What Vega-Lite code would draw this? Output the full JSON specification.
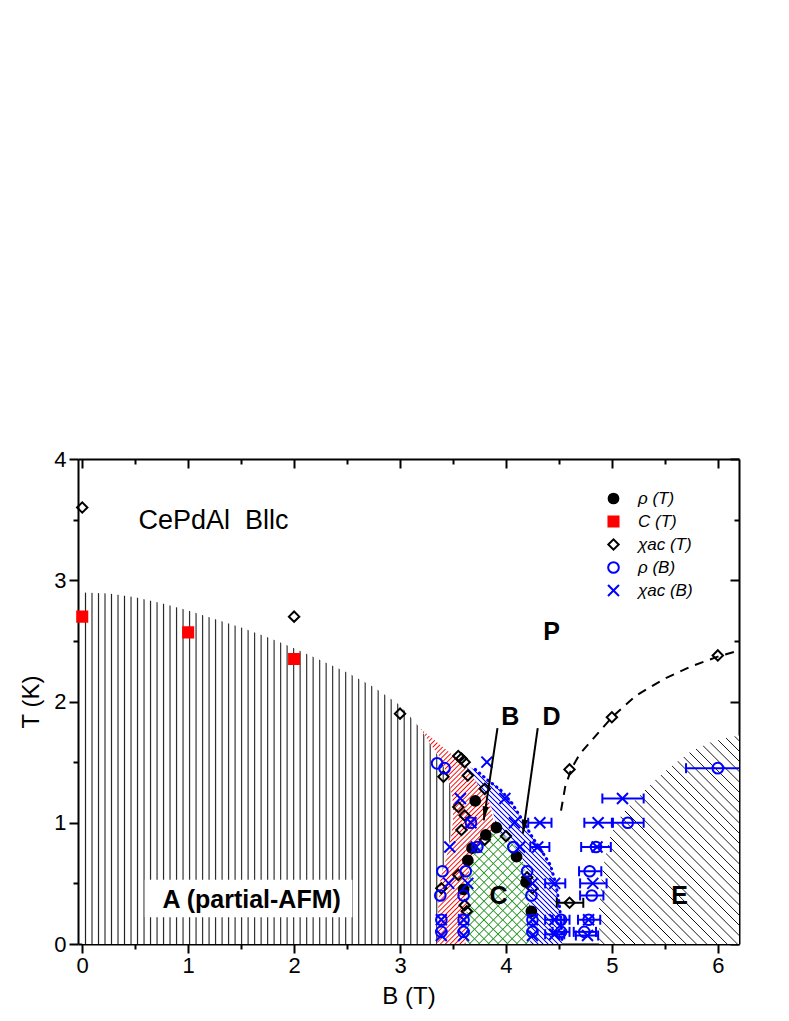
{
"$schema":"https://vega.github.io/schema/vega-lite/v6.json",
"width":661,"height":485,
"autosize":{"type":"none"},
"padding":{"left":78,"top":459,"right":50,"bottom":77},
"background":"white",
"config":{
 "view":{"stroke":null},
 "font":"Liberation Sans",
 "axis":{"grid":false,"zindex":1,"domainColor":"black","tickColor":"black","labelColor":"black","titleColor":"black","domainWidth":2,"tickWidth":2,"labelFont":"Liberation Sans","titleFont":"Liberation Sans","titleFontWeight":"normal"},
 "legend":{"orient":"none","legendX":527,"legendY":31,"labelFontSize":17,"labelFont":"Liberation Sans","labelFontStyle":"italic","labelColor":"black","rowPadding":4,"labelOffset":16,"symbolStrokeWidth":2,"padding":0}
},
"datasets":{
 "eb":[{"B":4.69,"B2":4.90,"T":0.60},{"B":4.70,"B2":4.92,"T":0.40},{"B":4.68,"B2":4.89,"T":0.20},{"B":4.64,"B2":4.85,"T":0.10},{"B":4.71,"B2":4.99,"T":0.80},{"B":5.01,"B2":5.30,"T":1.00},{"B":5.70,"B2":6.30,"T":1.45},{"B":4.44,"B2":4.60,"T":0.20},{"B":4.44,"B2":4.60,"T":0.10},{"B":4.21,"B2":4.43,"T":1.00},{"B":4.23,"B2":4.41,"T":0.80},{"B":4.37,"B2":4.56,"T":0.50},{"B":4.70,"B2":4.95,"T":0.50},{"B":4.74,"B2":5.00,"T":1.00},{"B":4.91,"B2":5.30,"T":1.20},{"B":4.37,"B2":4.55,"T":0.20},{"B":4.37,"B2":4.55,"T":0.08},{"B":4.66,"B2":4.87,"T":0.07}],
 "ebk":[{"B":4.48,"B2":4.73,"T":0.34}],
 "arrows":[{"B":3.79,"T":1.02,"B2":3.92,"T2":1.78},{"B":4.16,"T":0.91,"B2":4.30,"T2":1.78}]
},
"encoding":{
 "x":{"field":"B","type":"quantitative","scale":{"domain":[-0.04,6.2],"nice":false,"zero":false},"axis":{"orient":"bottom","values":[0,1,2,3,4,5,6],"title":"B (T)","tickSize":9,"labelFontSize":22,"labelPadding":2,"titleFontSize":24,"titlePadding":8}},
 "y":{"field":"T","type":"quantitative","scale":{"domain":[0,4],"nice":false,"zero":false},"axis":{"orient":"left","values":[0,1,2,3,4],"title":"T (K)","tickSize":9,"labelFontSize":22,"labelPadding":3,"titleFontSize":24,"titlePadding":10}}
},
"layer":[
{"layer":[
 {"data":{"values":[{"T":0,"B":3.35},{"T":0.30,"B":3.36},{"T":0.53,"B":3.38},{"T":0.70,"B":3.43},{"T":0.88,"B":3.48},{"T":1.02,"B":3.50},{"T":1.19,"B":3.50},{"T":1.33,"B":3.47},{"T":1.49,"B":3.40},{"T":1.62,"B":3.31},{"T":1.78,"B":3.19},{"T":1.87,"B":3.10},{"T":1.97,"B":3.00},{"T":2.12,"B":2.75},{"T":2.24,"B":2.50},{"T":2.34,"B":2.25},{"T":2.44,"B":2.00},{"T":2.53,"B":1.75},{"T":2.61,"B":1.50},{"T":2.68,"B":1.25},{"T":2.75,"B":1.00},{"T":2.81,"B":0.75},{"T":2.86,"B":0.50},{"T":2.89,"B":0.25},{"T":2.90,"B":0}]},
  "mark":{"type":"area","orient":"horizontal","opacity":1,"fillOpacity":1,"fill":{"gradient":"linear","x1":0,"y1":0,"x2":1,"y2":0,"stops":[
{"offset":0.0058,"color":"#fff"},{"offset":0.0088,"color":"#222"},{"offset":0.0118,"color":"#fff"},
{"offset":0.0233,"color":"#fff"},{"offset":0.0263,"color":"#222"},{"offset":0.0293,"color":"#fff"},
{"offset":0.0409,"color":"#fff"},{"offset":0.0439,"color":"#222"},{"offset":0.0469,"color":"#fff"},
{"offset":0.0584,"color":"#fff"},{"offset":0.0614,"color":"#222"},{"offset":0.0644,"color":"#fff"},
{"offset":0.0759,"color":"#fff"},{"offset":0.0789,"color":"#222"},{"offset":0.0819,"color":"#fff"},
{"offset":0.0935,"color":"#fff"},{"offset":0.0965,"color":"#222"},{"offset":0.0995,"color":"#fff"},
{"offset":0.1110,"color":"#fff"},{"offset":0.1140,"color":"#222"},{"offset":0.1170,"color":"#fff"},
{"offset":0.1286,"color":"#fff"},{"offset":0.1316,"color":"#222"},{"offset":0.1346,"color":"#fff"},
{"offset":0.1461,"color":"#fff"},{"offset":0.1491,"color":"#222"},{"offset":0.1521,"color":"#fff"},
{"offset":0.1637,"color":"#fff"},{"offset":0.1667,"color":"#222"},{"offset":0.1697,"color":"#fff"},
{"offset":0.1812,"color":"#fff"},{"offset":0.1842,"color":"#222"},{"offset":0.1872,"color":"#fff"},
{"offset":0.1988,"color":"#fff"},{"offset":0.2018,"color":"#222"},{"offset":0.2048,"color":"#fff"},
{"offset":0.2163,"color":"#fff"},{"offset":0.2193,"color":"#222"},{"offset":0.2223,"color":"#fff"},
{"offset":0.2338,"color":"#fff"},{"offset":0.2368,"color":"#222"},{"offset":0.2398,"color":"#fff"},
{"offset":0.2514,"color":"#fff"},{"offset":0.2544,"color":"#222"},{"offset":0.2574,"color":"#fff"},
{"offset":0.2689,"color":"#fff"},{"offset":0.2719,"color":"#222"},{"offset":0.2749,"color":"#fff"},
{"offset":0.2865,"color":"#fff"},{"offset":0.2895,"color":"#222"},{"offset":0.2925,"color":"#fff"},
{"offset":0.3040,"color":"#fff"},{"offset":0.3070,"color":"#222"},{"offset":0.3100,"color":"#fff"},
{"offset":0.3216,"color":"#fff"},{"offset":0.3246,"color":"#222"},{"offset":0.3276,"color":"#fff"},
{"offset":0.3391,"color":"#fff"},{"offset":0.3421,"color":"#222"},{"offset":0.3451,"color":"#fff"},
{"offset":0.3566,"color":"#fff"},{"offset":0.3596,"color":"#222"},{"offset":0.3626,"color":"#fff"},
{"offset":0.3742,"color":"#fff"},{"offset":0.3772,"color":"#222"},{"offset":0.3802,"color":"#fff"},
{"offset":0.3917,"color":"#fff"},{"offset":0.3947,"color":"#222"},{"offset":0.3977,"color":"#fff"},
{"offset":0.4093,"color":"#fff"},{"offset":0.4123,"color":"#222"},{"offset":0.4153,"color":"#fff"},
{"offset":0.4268,"color":"#fff"},{"offset":0.4298,"color":"#222"},{"offset":0.4328,"color":"#fff"},
{"offset":0.4444,"color":"#fff"},{"offset":0.4474,"color":"#222"},{"offset":0.4504,"color":"#fff"},
{"offset":0.4619,"color":"#fff"},{"offset":0.4649,"color":"#222"},{"offset":0.4679,"color":"#fff"},
{"offset":0.4795,"color":"#fff"},{"offset":0.4825,"color":"#222"},{"offset":0.4855,"color":"#fff"},
{"offset":0.4970,"color":"#fff"},{"offset":0.5000,"color":"#222"},{"offset":0.5030,"color":"#fff"},
{"offset":0.5145,"color":"#fff"},{"offset":0.5175,"color":"#222"},{"offset":0.5205,"color":"#fff"},
{"offset":0.5321,"color":"#fff"},{"offset":0.5351,"color":"#222"},{"offset":0.5381,"color":"#fff"},
{"offset":0.5496,"color":"#fff"},{"offset":0.5526,"color":"#222"},{"offset":0.5556,"color":"#fff"},
{"offset":0.5672,"color":"#fff"},{"offset":0.5702,"color":"#222"},{"offset":0.5732,"color":"#fff"},
{"offset":0.5847,"color":"#fff"},{"offset":0.5877,"color":"#222"},{"offset":0.5907,"color":"#fff"},
{"offset":0.6023,"color":"#fff"},{"offset":0.6053,"color":"#222"},{"offset":0.6083,"color":"#fff"},
{"offset":0.6198,"color":"#fff"},{"offset":0.6228,"color":"#222"},{"offset":0.6258,"color":"#fff"},
{"offset":0.6374,"color":"#fff"},{"offset":0.6404,"color":"#222"},{"offset":0.6434,"color":"#fff"},
{"offset":0.6549,"color":"#fff"},{"offset":0.6579,"color":"#222"},{"offset":0.6609,"color":"#fff"},
{"offset":0.6724,"color":"#fff"},{"offset":0.6754,"color":"#222"},{"offset":0.6784,"color":"#fff"},
{"offset":0.6900,"color":"#fff"},{"offset":0.6930,"color":"#222"},{"offset":0.6960,"color":"#fff"},
{"offset":0.7075,"color":"#fff"},{"offset":0.7105,"color":"#222"},{"offset":0.7135,"color":"#fff"},
{"offset":0.7251,"color":"#fff"},{"offset":0.7281,"color":"#222"},{"offset":0.7311,"color":"#fff"},
{"offset":0.7426,"color":"#fff"},{"offset":0.7456,"color":"#222"},{"offset":0.7486,"color":"#fff"},
{"offset":0.7602,"color":"#fff"},{"offset":0.7632,"color":"#222"},{"offset":0.7662,"color":"#fff"},
{"offset":0.7777,"color":"#fff"},{"offset":0.7807,"color":"#222"},{"offset":0.7837,"color":"#fff"},
{"offset":0.7952,"color":"#fff"},{"offset":0.7982,"color":"#222"},{"offset":0.8012,"color":"#fff"},
{"offset":0.8128,"color":"#fff"},{"offset":0.8158,"color":"#222"},{"offset":0.8188,"color":"#fff"},
{"offset":0.8303,"color":"#fff"},{"offset":0.8333,"color":"#222"},{"offset":0.8363,"color":"#fff"},
{"offset":0.8479,"color":"#fff"},{"offset":0.8509,"color":"#222"},{"offset":0.8539,"color":"#fff"},
{"offset":0.8654,"color":"#fff"},{"offset":0.8684,"color":"#222"},{"offset":0.8714,"color":"#fff"},
{"offset":0.8830,"color":"#fff"},{"offset":0.8860,"color":"#222"},{"offset":0.8890,"color":"#fff"},
{"offset":0.9005,"color":"#fff"},{"offset":0.9035,"color":"#222"},{"offset":0.9065,"color":"#fff"},
{"offset":0.9181,"color":"#fff"},{"offset":0.9211,"color":"#222"},{"offset":0.9241,"color":"#fff"},
{"offset":0.9356,"color":"#fff"},{"offset":0.9386,"color":"#222"},{"offset":0.9416,"color":"#fff"},
{"offset":0.9531,"color":"#fff"},{"offset":0.9561,"color":"#222"},{"offset":0.9591,"color":"#fff"},
{"offset":0.9707,"color":"#fff"},{"offset":0.9737,"color":"#222"},{"offset":0.9767,"color":"#fff"},
{"offset":0.9882,"color":"#fff"},{"offset":0.9912,"color":"#222"},{"offset":0.9942,"color":"#fff"}]}},
  "encoding":{"x2":{"datum":0}}},
 {"data":{"values":[{"T":0,"B":3.35,"B2":3.62},{"T":0.30,"B":3.36,"B2":3.63},{"T":0.53,"B":3.38,"B2":3.64},{"T":0.69,"B":3.43,"B2":3.67},{"T":0.83,"B":3.47,"B2":3.75},{"T":0.88,"B":3.48,"B2":3.80},{"T":0.94,"B":3.49,"B2":3.91},{"T":1.02,"B":3.50,"B2":3.88},{"T":1.16,"B":3.50,"B2":3.85},{"T":1.30,"B":3.475,"B2":3.75},{"T":1.40,"B":3.44,"B2":3.67},{"T":1.47,"B":3.41,"B2":3.62},{"T":1.55,"B":3.37,"B2":3.51},{"T":1.62,"B":3.31,"B2":3.41},{"T":1.70,"B":3.25,"B2":3.30},{"T":1.78,"B":3.19,"B2":3.19}]},
  "mark":{"type":"area","orient":"horizontal","opacity":1,"fillOpacity":1,"fill":{"gradient":"linear","x1":0,"y1":0,"x2":0.4254,"y2":1.2031,"stops":[
{"offset":0.0038,"color":"#fff"},{"offset":0.0083,"color":"#f00"},{"offset":0.0128,"color":"#fff"},
{"offset":0.0205,"color":"#fff"},{"offset":0.0250,"color":"#f00"},{"offset":0.0295,"color":"#fff"},
{"offset":0.0372,"color":"#fff"},{"offset":0.0417,"color":"#f00"},{"offset":0.0462,"color":"#fff"},
{"offset":0.0538,"color":"#fff"},{"offset":0.0583,"color":"#f00"},{"offset":0.0628,"color":"#fff"},
{"offset":0.0705,"color":"#fff"},{"offset":0.0750,"color":"#f00"},{"offset":0.0795,"color":"#fff"},
{"offset":0.0872,"color":"#fff"},{"offset":0.0917,"color":"#f00"},{"offset":0.0962,"color":"#fff"},
{"offset":0.1038,"color":"#fff"},{"offset":0.1083,"color":"#f00"},{"offset":0.1128,"color":"#fff"},
{"offset":0.1205,"color":"#fff"},{"offset":0.1250,"color":"#f00"},{"offset":0.1295,"color":"#fff"},
{"offset":0.1372,"color":"#fff"},{"offset":0.1417,"color":"#f00"},{"offset":0.1462,"color":"#fff"},
{"offset":0.1538,"color":"#fff"},{"offset":0.1583,"color":"#f00"},{"offset":0.1628,"color":"#fff"},
{"offset":0.1705,"color":"#fff"},{"offset":0.1750,"color":"#f00"},{"offset":0.1795,"color":"#fff"},
{"offset":0.1872,"color":"#fff"},{"offset":0.1917,"color":"#f00"},{"offset":0.1962,"color":"#fff"},
{"offset":0.2038,"color":"#fff"},{"offset":0.2083,"color":"#f00"},{"offset":0.2128,"color":"#fff"},
{"offset":0.2205,"color":"#fff"},{"offset":0.2250,"color":"#f00"},{"offset":0.2295,"color":"#fff"},
{"offset":0.2372,"color":"#fff"},{"offset":0.2417,"color":"#f00"},{"offset":0.2462,"color":"#fff"},
{"offset":0.2538,"color":"#fff"},{"offset":0.2583,"color":"#f00"},{"offset":0.2628,"color":"#fff"},
{"offset":0.2705,"color":"#fff"},{"offset":0.2750,"color":"#f00"},{"offset":0.2795,"color":"#fff"},
{"offset":0.2872,"color":"#fff"},{"offset":0.2917,"color":"#f00"},{"offset":0.2962,"color":"#fff"},
{"offset":0.3038,"color":"#fff"},{"offset":0.3083,"color":"#f00"},{"offset":0.3128,"color":"#fff"},
{"offset":0.3205,"color":"#fff"},{"offset":0.3250,"color":"#f00"},{"offset":0.3295,"color":"#fff"},
{"offset":0.3372,"color":"#fff"},{"offset":0.3417,"color":"#f00"},{"offset":0.3462,"color":"#fff"},
{"offset":0.3538,"color":"#fff"},{"offset":0.3583,"color":"#f00"},{"offset":0.3628,"color":"#fff"},
{"offset":0.3705,"color":"#fff"},{"offset":0.3750,"color":"#f00"},{"offset":0.3795,"color":"#fff"},
{"offset":0.3872,"color":"#fff"},{"offset":0.3917,"color":"#f00"},{"offset":0.3962,"color":"#fff"},
{"offset":0.4038,"color":"#fff"},{"offset":0.4083,"color":"#f00"},{"offset":0.4128,"color":"#fff"},
{"offset":0.4205,"color":"#fff"},{"offset":0.4250,"color":"#f00"},{"offset":0.4295,"color":"#fff"},
{"offset":0.4372,"color":"#fff"},{"offset":0.4417,"color":"#f00"},{"offset":0.4462,"color":"#fff"},
{"offset":0.4538,"color":"#fff"},{"offset":0.4583,"color":"#f00"},{"offset":0.4628,"color":"#fff"},
{"offset":0.4705,"color":"#fff"},{"offset":0.4750,"color":"#f00"},{"offset":0.4795,"color":"#fff"},
{"offset":0.4872,"color":"#fff"},{"offset":0.4917,"color":"#f00"},{"offset":0.4962,"color":"#fff"},
{"offset":0.5038,"color":"#fff"},{"offset":0.5083,"color":"#f00"},{"offset":0.5128,"color":"#fff"},
{"offset":0.5205,"color":"#fff"},{"offset":0.5250,"color":"#f00"},{"offset":0.5295,"color":"#fff"},
{"offset":0.5372,"color":"#fff"},{"offset":0.5417,"color":"#f00"},{"offset":0.5462,"color":"#fff"},
{"offset":0.5538,"color":"#fff"},{"offset":0.5583,"color":"#f00"},{"offset":0.5628,"color":"#fff"},
{"offset":0.5705,"color":"#fff"},{"offset":0.5750,"color":"#f00"},{"offset":0.5795,"color":"#fff"},
{"offset":0.5872,"color":"#fff"},{"offset":0.5917,"color":"#f00"},{"offset":0.5962,"color":"#fff"},
{"offset":0.6038,"color":"#fff"},{"offset":0.6083,"color":"#f00"},{"offset":0.6128,"color":"#fff"},
{"offset":0.6205,"color":"#fff"},{"offset":0.6250,"color":"#f00"},{"offset":0.6295,"color":"#fff"},
{"offset":0.6372,"color":"#fff"},{"offset":0.6417,"color":"#f00"},{"offset":0.6462,"color":"#fff"},
{"offset":0.6538,"color":"#fff"},{"offset":0.6583,"color":"#f00"},{"offset":0.6628,"color":"#fff"},
{"offset":0.6705,"color":"#fff"},{"offset":0.6750,"color":"#f00"},{"offset":0.6795,"color":"#fff"},
{"offset":0.6872,"color":"#fff"},{"offset":0.6917,"color":"#f00"},{"offset":0.6962,"color":"#fff"},
{"offset":0.7038,"color":"#fff"},{"offset":0.7083,"color":"#f00"},{"offset":0.7128,"color":"#fff"},
{"offset":0.7205,"color":"#fff"},{"offset":0.7250,"color":"#f00"},{"offset":0.7295,"color":"#fff"},
{"offset":0.7372,"color":"#fff"},{"offset":0.7417,"color":"#f00"},{"offset":0.7462,"color":"#fff"},
{"offset":0.7538,"color":"#fff"},{"offset":0.7583,"color":"#f00"},{"offset":0.7628,"color":"#fff"},
{"offset":0.7705,"color":"#fff"},{"offset":0.7750,"color":"#f00"},{"offset":0.7795,"color":"#fff"},
{"offset":0.7872,"color":"#fff"},{"offset":0.7917,"color":"#f00"},{"offset":0.7962,"color":"#fff"},
{"offset":0.8038,"color":"#fff"},{"offset":0.8083,"color":"#f00"},{"offset":0.8128,"color":"#fff"},
{"offset":0.8205,"color":"#fff"},{"offset":0.8250,"color":"#f00"},{"offset":0.8295,"color":"#fff"},
{"offset":0.8372,"color":"#fff"},{"offset":0.8417,"color":"#f00"},{"offset":0.8462,"color":"#fff"},
{"offset":0.8538,"color":"#fff"},{"offset":0.8583,"color":"#f00"},{"offset":0.8628,"color":"#fff"},
{"offset":0.8705,"color":"#fff"},{"offset":0.8750,"color":"#f00"},{"offset":0.8795,"color":"#fff"},
{"offset":0.8872,"color":"#fff"},{"offset":0.8917,"color":"#f00"},{"offset":0.8962,"color":"#fff"},
{"offset":0.9038,"color":"#fff"},{"offset":0.9083,"color":"#f00"},{"offset":0.9128,"color":"#fff"},
{"offset":0.9205,"color":"#fff"},{"offset":0.9250,"color":"#f00"},{"offset":0.9295,"color":"#fff"},
{"offset":0.9372,"color":"#fff"},{"offset":0.9417,"color":"#f00"},{"offset":0.9462,"color":"#fff"},
{"offset":0.9538,"color":"#fff"},{"offset":0.9583,"color":"#f00"},{"offset":0.9628,"color":"#fff"},
{"offset":0.9705,"color":"#fff"},{"offset":0.9750,"color":"#f00"},{"offset":0.9795,"color":"#fff"},
{"offset":0.9872,"color":"#fff"},{"offset":0.9917,"color":"#f00"},{"offset":0.9962,"color":"#fff"}]}},
  "encoding":{"x2":{"field":"B2"}}},
 {"data":{"values":[{"T":0,"B":3.62,"B2":4.23},{"T":0.31,"B":3.63,"B2":4.22},{"T":0.53,"B":3.64,"B2":4.20},{"T":0.69,"B":3.67,"B2":4.16},{"T":0.83,"B":3.75,"B2":4.07},{"T":0.90,"B":3.84,"B2":3.98},{"T":0.94,"B":3.91,"B2":3.91}]},
  "mark":{"type":"area","orient":"horizontal","opacity":1,"fillOpacity":1,"fill":{"gradient":"linear","x1":0,"y1":0,"x2":0.673,"y2":1.186,"stops":[
{"offset":0.0193,"color":"#fff"},{"offset":0.0263,"color":"#2a962a"},{"offset":0.0333,"color":"#fff"},
{"offset":0.0719,"color":"#fff"},{"offset":0.0789,"color":"#2a962a"},{"offset":0.0859,"color":"#fff"},
{"offset":0.1246,"color":"#fff"},{"offset":0.1316,"color":"#2a962a"},{"offset":0.1386,"color":"#fff"},
{"offset":0.1772,"color":"#fff"},{"offset":0.1842,"color":"#2a962a"},{"offset":0.1912,"color":"#fff"},
{"offset":0.2298,"color":"#fff"},{"offset":0.2368,"color":"#2a962a"},{"offset":0.2438,"color":"#fff"},
{"offset":0.2825,"color":"#fff"},{"offset":0.2895,"color":"#2a962a"},{"offset":0.2965,"color":"#fff"},
{"offset":0.3351,"color":"#fff"},{"offset":0.3421,"color":"#2a962a"},{"offset":0.3491,"color":"#fff"},
{"offset":0.3877,"color":"#fff"},{"offset":0.3947,"color":"#2a962a"},{"offset":0.4017,"color":"#fff"},
{"offset":0.4404,"color":"#fff"},{"offset":0.4474,"color":"#2a962a"},{"offset":0.4544,"color":"#fff"},
{"offset":0.4930,"color":"#fff"},{"offset":0.5000,"color":"#2a962a"},{"offset":0.5070,"color":"#fff"},
{"offset":0.5456,"color":"#fff"},{"offset":0.5526,"color":"#2a962a"},{"offset":0.5596,"color":"#fff"},
{"offset":0.5983,"color":"#fff"},{"offset":0.6053,"color":"#2a962a"},{"offset":0.6123,"color":"#fff"},
{"offset":0.6509,"color":"#fff"},{"offset":0.6579,"color":"#2a962a"},{"offset":0.6649,"color":"#fff"},
{"offset":0.7035,"color":"#fff"},{"offset":0.7105,"color":"#2a962a"},{"offset":0.7175,"color":"#fff"},
{"offset":0.7562,"color":"#fff"},{"offset":0.7632,"color":"#2a962a"},{"offset":0.7702,"color":"#fff"},
{"offset":0.8088,"color":"#fff"},{"offset":0.8158,"color":"#2a962a"},{"offset":0.8228,"color":"#fff"},
{"offset":0.8614,"color":"#fff"},{"offset":0.8684,"color":"#2a962a"},{"offset":0.8754,"color":"#fff"},
{"offset":0.9141,"color":"#fff"},{"offset":0.9211,"color":"#2a962a"},{"offset":0.9281,"color":"#fff"},
{"offset":0.9667,"color":"#fff"},{"offset":0.9737,"color":"#2a962a"},{"offset":0.9807,"color":"#fff"}]}},
  "encoding":{"x2":{"field":"B2"}}},
 {"data":{"values":[{"T":0,"B":3.62,"B2":4.23},{"T":0.31,"B":3.63,"B2":4.22},{"T":0.53,"B":3.64,"B2":4.20},{"T":0.69,"B":3.67,"B2":4.16},{"T":0.83,"B":3.75,"B2":4.07},{"T":0.90,"B":3.84,"B2":3.98},{"T":0.94,"B":3.91,"B2":3.91}]},
  "mark":{"type":"area","orient":"horizontal","opacity":1,"fillOpacity":1,"fill":{"gradient":"linear","x1":0,"y1":1,"x2":0.673,"y2":-0.186,"stops":[
{"offset":0.0193,"color":"rgba(42,150,42,0)"},{"offset":0.0263,"color":"#2a962a"},{"offset":0.0333,"color":"rgba(42,150,42,0)"},
{"offset":0.0719,"color":"rgba(42,150,42,0)"},{"offset":0.0789,"color":"#2a962a"},{"offset":0.0859,"color":"rgba(42,150,42,0)"},
{"offset":0.1246,"color":"rgba(42,150,42,0)"},{"offset":0.1316,"color":"#2a962a"},{"offset":0.1386,"color":"rgba(42,150,42,0)"},
{"offset":0.1772,"color":"rgba(42,150,42,0)"},{"offset":0.1842,"color":"#2a962a"},{"offset":0.1912,"color":"rgba(42,150,42,0)"},
{"offset":0.2298,"color":"rgba(42,150,42,0)"},{"offset":0.2368,"color":"#2a962a"},{"offset":0.2438,"color":"rgba(42,150,42,0)"},
{"offset":0.2825,"color":"rgba(42,150,42,0)"},{"offset":0.2895,"color":"#2a962a"},{"offset":0.2965,"color":"rgba(42,150,42,0)"},
{"offset":0.3351,"color":"rgba(42,150,42,0)"},{"offset":0.3421,"color":"#2a962a"},{"offset":0.3491,"color":"rgba(42,150,42,0)"},
{"offset":0.3877,"color":"rgba(42,150,42,0)"},{"offset":0.3947,"color":"#2a962a"},{"offset":0.4017,"color":"rgba(42,150,42,0)"},
{"offset":0.4404,"color":"rgba(42,150,42,0)"},{"offset":0.4474,"color":"#2a962a"},{"offset":0.4544,"color":"rgba(42,150,42,0)"},
{"offset":0.4930,"color":"rgba(42,150,42,0)"},{"offset":0.5000,"color":"#2a962a"},{"offset":0.5070,"color":"rgba(42,150,42,0)"},
{"offset":0.5456,"color":"rgba(42,150,42,0)"},{"offset":0.5526,"color":"#2a962a"},{"offset":0.5596,"color":"rgba(42,150,42,0)"},
{"offset":0.5983,"color":"rgba(42,150,42,0)"},{"offset":0.6053,"color":"#2a962a"},{"offset":0.6123,"color":"rgba(42,150,42,0)"},
{"offset":0.6509,"color":"rgba(42,150,42,0)"},{"offset":0.6579,"color":"#2a962a"},{"offset":0.6649,"color":"rgba(42,150,42,0)"},
{"offset":0.7035,"color":"rgba(42,150,42,0)"},{"offset":0.7105,"color":"#2a962a"},{"offset":0.7175,"color":"rgba(42,150,42,0)"},
{"offset":0.7562,"color":"rgba(42,150,42,0)"},{"offset":0.7632,"color":"#2a962a"},{"offset":0.7702,"color":"rgba(42,150,42,0)"},
{"offset":0.8088,"color":"rgba(42,150,42,0)"},{"offset":0.8158,"color":"#2a962a"},{"offset":0.8228,"color":"rgba(42,150,42,0)"},
{"offset":0.8614,"color":"rgba(42,150,42,0)"},{"offset":0.8684,"color":"#2a962a"},{"offset":0.8754,"color":"rgba(42,150,42,0)"},
{"offset":0.9141,"color":"rgba(42,150,42,0)"},{"offset":0.9211,"color":"#2a962a"},{"offset":0.9281,"color":"rgba(42,150,42,0)"},
{"offset":0.9667,"color":"rgba(42,150,42,0)"},{"offset":0.9737,"color":"#2a962a"},{"offset":0.9807,"color":"rgba(42,150,42,0)"}]}},
  "encoding":{"x2":{"field":"B2"}}},
 {"data":{"values":[{"T":0,"B":4.23,"B2":4.53},{"T":0.20,"B":4.225,"B2":4.52},{"T":0.31,"B":4.22,"B2":4.505},{"T":0.45,"B":4.21,"B2":4.48},{"T":0.585,"B":4.19,"B2":4.44},{"T":0.65,"B":4.17,"B2":4.42},{"T":0.72,"B":4.15,"B2":4.37},{"T":0.83,"B":4.07,"B2":4.29},{"T":0.90,"B":3.98,"B2":4.23},{"T":0.94,"B":3.91,"B2":4.21},{"T":1.05,"B":3.89,"B2":4.13},{"T":1.16,"B":3.85,"B2":4.06},{"T":1.30,"B":3.75,"B2":3.91},{"T":1.40,"B":3.67,"B2":3.77},{"T":1.47,"B":3.62,"B2":3.64}]},
  "mark":{"type":"area","orient":"horizontal","opacity":1,"fillOpacity":1,"fill":{"gradient":"linear","x1":0,"y1":1,"x2":0.6455,"y2":-0.192,"stops":[
{"offset":0.0043,"color":"#fff"},{"offset":0.0091,"color":"#00f"},{"offset":0.0139,"color":"#fff"},
{"offset":0.0225,"color":"#fff"},{"offset":0.0273,"color":"#00f"},{"offset":0.0321,"color":"#fff"},
{"offset":0.0407,"color":"#fff"},{"offset":0.0455,"color":"#00f"},{"offset":0.0503,"color":"#fff"},
{"offset":0.0588,"color":"#fff"},{"offset":0.0636,"color":"#00f"},{"offset":0.0684,"color":"#fff"},
{"offset":0.0770,"color":"#fff"},{"offset":0.0818,"color":"#00f"},{"offset":0.0866,"color":"#fff"},
{"offset":0.0952,"color":"#fff"},{"offset":0.1000,"color":"#00f"},{"offset":0.1048,"color":"#fff"},
{"offset":0.1134,"color":"#fff"},{"offset":0.1182,"color":"#00f"},{"offset":0.1230,"color":"#fff"},
{"offset":0.1316,"color":"#fff"},{"offset":0.1364,"color":"#00f"},{"offset":0.1412,"color":"#fff"},
{"offset":0.1497,"color":"#fff"},{"offset":0.1545,"color":"#00f"},{"offset":0.1593,"color":"#fff"},
{"offset":0.1679,"color":"#fff"},{"offset":0.1727,"color":"#00f"},{"offset":0.1775,"color":"#fff"},
{"offset":0.1861,"color":"#fff"},{"offset":0.1909,"color":"#00f"},{"offset":0.1957,"color":"#fff"},
{"offset":0.2043,"color":"#fff"},{"offset":0.2091,"color":"#00f"},{"offset":0.2139,"color":"#fff"},
{"offset":0.2225,"color":"#fff"},{"offset":0.2273,"color":"#00f"},{"offset":0.2321,"color":"#fff"},
{"offset":0.2407,"color":"#fff"},{"offset":0.2455,"color":"#00f"},{"offset":0.2503,"color":"#fff"},
{"offset":0.2588,"color":"#fff"},{"offset":0.2636,"color":"#00f"},{"offset":0.2684,"color":"#fff"},
{"offset":0.2770,"color":"#fff"},{"offset":0.2818,"color":"#00f"},{"offset":0.2866,"color":"#fff"},
{"offset":0.2952,"color":"#fff"},{"offset":0.3000,"color":"#00f"},{"offset":0.3048,"color":"#fff"},
{"offset":0.3134,"color":"#fff"},{"offset":0.3182,"color":"#00f"},{"offset":0.3230,"color":"#fff"},
{"offset":0.3316,"color":"#fff"},{"offset":0.3364,"color":"#00f"},{"offset":0.3412,"color":"#fff"},
{"offset":0.3497,"color":"#fff"},{"offset":0.3545,"color":"#00f"},{"offset":0.3593,"color":"#fff"},
{"offset":0.3679,"color":"#fff"},{"offset":0.3727,"color":"#00f"},{"offset":0.3775,"color":"#fff"},
{"offset":0.3861,"color":"#fff"},{"offset":0.3909,"color":"#00f"},{"offset":0.3957,"color":"#fff"},
{"offset":0.4043,"color":"#fff"},{"offset":0.4091,"color":"#00f"},{"offset":0.4139,"color":"#fff"},
{"offset":0.4225,"color":"#fff"},{"offset":0.4273,"color":"#00f"},{"offset":0.4321,"color":"#fff"},
{"offset":0.4407,"color":"#fff"},{"offset":0.4455,"color":"#00f"},{"offset":0.4503,"color":"#fff"},
{"offset":0.4588,"color":"#fff"},{"offset":0.4636,"color":"#00f"},{"offset":0.4684,"color":"#fff"},
{"offset":0.4770,"color":"#fff"},{"offset":0.4818,"color":"#00f"},{"offset":0.4866,"color":"#fff"},
{"offset":0.4952,"color":"#fff"},{"offset":0.5000,"color":"#00f"},{"offset":0.5048,"color":"#fff"},
{"offset":0.5134,"color":"#fff"},{"offset":0.5182,"color":"#00f"},{"offset":0.5230,"color":"#fff"},
{"offset":0.5316,"color":"#fff"},{"offset":0.5364,"color":"#00f"},{"offset":0.5412,"color":"#fff"},
{"offset":0.5497,"color":"#fff"},{"offset":0.5545,"color":"#00f"},{"offset":0.5593,"color":"#fff"},
{"offset":0.5679,"color":"#fff"},{"offset":0.5727,"color":"#00f"},{"offset":0.5775,"color":"#fff"},
{"offset":0.5861,"color":"#fff"},{"offset":0.5909,"color":"#00f"},{"offset":0.5957,"color":"#fff"},
{"offset":0.6043,"color":"#fff"},{"offset":0.6091,"color":"#00f"},{"offset":0.6139,"color":"#fff"},
{"offset":0.6225,"color":"#fff"},{"offset":0.6273,"color":"#00f"},{"offset":0.6321,"color":"#fff"},
{"offset":0.6407,"color":"#fff"},{"offset":0.6455,"color":"#00f"},{"offset":0.6503,"color":"#fff"},
{"offset":0.6588,"color":"#fff"},{"offset":0.6636,"color":"#00f"},{"offset":0.6684,"color":"#fff"},
{"offset":0.6770,"color":"#fff"},{"offset":0.6818,"color":"#00f"},{"offset":0.6866,"color":"#fff"},
{"offset":0.6952,"color":"#fff"},{"offset":0.7000,"color":"#00f"},{"offset":0.7048,"color":"#fff"},
{"offset":0.7134,"color":"#fff"},{"offset":0.7182,"color":"#00f"},{"offset":0.7230,"color":"#fff"},
{"offset":0.7316,"color":"#fff"},{"offset":0.7364,"color":"#00f"},{"offset":0.7412,"color":"#fff"},
{"offset":0.7497,"color":"#fff"},{"offset":0.7545,"color":"#00f"},{"offset":0.7593,"color":"#fff"},
{"offset":0.7679,"color":"#fff"},{"offset":0.7727,"color":"#00f"},{"offset":0.7775,"color":"#fff"},
{"offset":0.7861,"color":"#fff"},{"offset":0.7909,"color":"#00f"},{"offset":0.7957,"color":"#fff"},
{"offset":0.8043,"color":"#fff"},{"offset":0.8091,"color":"#00f"},{"offset":0.8139,"color":"#fff"},
{"offset":0.8225,"color":"#fff"},{"offset":0.8273,"color":"#00f"},{"offset":0.8321,"color":"#fff"},
{"offset":0.8407,"color":"#fff"},{"offset":0.8455,"color":"#00f"},{"offset":0.8503,"color":"#fff"},
{"offset":0.8588,"color":"#fff"},{"offset":0.8636,"color":"#00f"},{"offset":0.8684,"color":"#fff"},
{"offset":0.8770,"color":"#fff"},{"offset":0.8818,"color":"#00f"},{"offset":0.8866,"color":"#fff"},
{"offset":0.8952,"color":"#fff"},{"offset":0.9000,"color":"#00f"},{"offset":0.9048,"color":"#fff"},
{"offset":0.9134,"color":"#fff"},{"offset":0.9182,"color":"#00f"},{"offset":0.9230,"color":"#fff"},
{"offset":0.9316,"color":"#fff"},{"offset":0.9364,"color":"#00f"},{"offset":0.9412,"color":"#fff"},
{"offset":0.9497,"color":"#fff"},{"offset":0.9545,"color":"#00f"},{"offset":0.9593,"color":"#fff"},
{"offset":0.9679,"color":"#fff"},{"offset":0.9727,"color":"#00f"},{"offset":0.9775,"color":"#fff"},
{"offset":0.9861,"color":"#fff"},{"offset":0.9909,"color":"#00f"},{"offset":0.9957,"color":"#fff"}]}},
  "encoding":{"x2":{"field":"B2"}}},
 {"data":{"values":[{"T":0,"B":4.88},{"T":0.30,"B":4.88},{"T":0.60,"B":4.91},{"T":0.85,"B":4.97},{"T":1.00,"B":5.04},{"T":1.12,"B":5.14},{"T":1.22,"B":5.26},{"T":1.36,"B":5.42},{"T":1.48,"B":5.58},{"T":1.59,"B":5.75},{"T":1.66,"B":5.92},{"T":1.70,"B":6.08},{"T":1.72,"B":6.2}]},
  "mark":{"type":"area","orient":"horizontal","opacity":1,"fillOpacity":1,"fill":{"gradient":"linear","x1":0,"y1":1,"x2":0.773,"y2":-0.152,"stops":[
{"offset":0.0121,"color":"#fff"},{"offset":0.0147,"color":"#000"},{"offset":0.0173,"color":"#fff"},
{"offset":0.0415,"color":"#fff"},{"offset":0.0441,"color":"#000"},{"offset":0.0467,"color":"#fff"},
{"offset":0.0709,"color":"#fff"},{"offset":0.0735,"color":"#000"},{"offset":0.0761,"color":"#fff"},
{"offset":0.1003,"color":"#fff"},{"offset":0.1029,"color":"#000"},{"offset":0.1055,"color":"#fff"},
{"offset":0.1298,"color":"#fff"},{"offset":0.1324,"color":"#000"},{"offset":0.1350,"color":"#fff"},
{"offset":0.1592,"color":"#fff"},{"offset":0.1618,"color":"#000"},{"offset":0.1644,"color":"#fff"},
{"offset":0.1886,"color":"#fff"},{"offset":0.1912,"color":"#000"},{"offset":0.1938,"color":"#fff"},
{"offset":0.2180,"color":"#fff"},{"offset":0.2206,"color":"#000"},{"offset":0.2232,"color":"#fff"},
{"offset":0.2474,"color":"#fff"},{"offset":0.2500,"color":"#000"},{"offset":0.2526,"color":"#fff"},
{"offset":0.2768,"color":"#fff"},{"offset":0.2794,"color":"#000"},{"offset":0.2820,"color":"#fff"},
{"offset":0.3062,"color":"#fff"},{"offset":0.3088,"color":"#000"},{"offset":0.3114,"color":"#fff"},
{"offset":0.3356,"color":"#fff"},{"offset":0.3382,"color":"#000"},{"offset":0.3408,"color":"#fff"},
{"offset":0.3650,"color":"#fff"},{"offset":0.3676,"color":"#000"},{"offset":0.3702,"color":"#fff"},
{"offset":0.3945,"color":"#fff"},{"offset":0.3971,"color":"#000"},{"offset":0.3997,"color":"#fff"},
{"offset":0.4239,"color":"#fff"},{"offset":0.4265,"color":"#000"},{"offset":0.4291,"color":"#fff"},
{"offset":0.4533,"color":"#fff"},{"offset":0.4559,"color":"#000"},{"offset":0.4585,"color":"#fff"},
{"offset":0.4827,"color":"#fff"},{"offset":0.4853,"color":"#000"},{"offset":0.4879,"color":"#fff"},
{"offset":0.5121,"color":"#fff"},{"offset":0.5147,"color":"#000"},{"offset":0.5173,"color":"#fff"},
{"offset":0.5415,"color":"#fff"},{"offset":0.5441,"color":"#000"},{"offset":0.5467,"color":"#fff"},
{"offset":0.5709,"color":"#fff"},{"offset":0.5735,"color":"#000"},{"offset":0.5761,"color":"#fff"},
{"offset":0.6003,"color":"#fff"},{"offset":0.6029,"color":"#000"},{"offset":0.6055,"color":"#fff"},
{"offset":0.6298,"color":"#fff"},{"offset":0.6324,"color":"#000"},{"offset":0.6350,"color":"#fff"},
{"offset":0.6592,"color":"#fff"},{"offset":0.6618,"color":"#000"},{"offset":0.6644,"color":"#fff"},
{"offset":0.6886,"color":"#fff"},{"offset":0.6912,"color":"#000"},{"offset":0.6938,"color":"#fff"},
{"offset":0.7180,"color":"#fff"},{"offset":0.7206,"color":"#000"},{"offset":0.7232,"color":"#fff"},
{"offset":0.7474,"color":"#fff"},{"offset":0.7500,"color":"#000"},{"offset":0.7526,"color":"#fff"},
{"offset":0.7768,"color":"#fff"},{"offset":0.7794,"color":"#000"},{"offset":0.7820,"color":"#fff"},
{"offset":0.8062,"color":"#fff"},{"offset":0.8088,"color":"#000"},{"offset":0.8114,"color":"#fff"},
{"offset":0.8356,"color":"#fff"},{"offset":0.8382,"color":"#000"},{"offset":0.8408,"color":"#fff"},
{"offset":0.8650,"color":"#fff"},{"offset":0.8676,"color":"#000"},{"offset":0.8702,"color":"#fff"},
{"offset":0.8945,"color":"#fff"},{"offset":0.8971,"color":"#000"},{"offset":0.8997,"color":"#fff"},
{"offset":0.9239,"color":"#fff"},{"offset":0.9265,"color":"#000"},{"offset":0.9291,"color":"#fff"},
{"offset":0.9533,"color":"#fff"},{"offset":0.9559,"color":"#000"},{"offset":0.9585,"color":"#fff"},
{"offset":0.9827,"color":"#fff"},{"offset":0.9853,"color":"#000"},{"offset":0.9879,"color":"#fff"}]}},
  "encoding":{"x2":{"datum":6.2}}},
 {"data":{"values":[{"B":0.59,"B2":2.55,"T":0.22,"T2":0.53}]},
  "mark":{"type":"rect","fill":"white","opacity":1},
  "encoding":{"x2":{"field":"B2"},"y2":{"field":"T2"}}},
 {"data":{"values":[{"B":4.52,"T":1.10},{"B":4.56,"T":1.30},{"B":4.62,"T":1.45},{"B":4.70,"T":1.57},{"B":4.80,"T":1.67},{"B":5.0,"T":1.87},{"B":5.23,"T":2.05},{"B":5.5,"T":2.19},{"B":5.75,"T":2.29},{"B":6.0,"T":2.37},{"B":6.2,"T":2.42}]},
  "mark":{"type":"line","color":"black","strokeWidth":2,"strokeDash":[9,7],"clip":true}},
 {"data":{"values":[{"B":3.71,"T":1.44},{"B":3.83,"T":1.35},{"B":3.95,"T":1.27},{"B":4.05,"T":1.17},{"B":4.15,"T":1.03},{"B":4.25,"T":0.88},{"B":4.35,"T":0.75},{"B":4.42,"T":0.65},{"B":4.47,"T":0.50},{"B":4.50,"T":0.35},{"B":4.52,"T":0.20},{"B":4.53,"T":0.0}]},
  "mark":{"type":"line","color":"#0000ff","strokeWidth":3,"strokeDash":[0.5,5],"strokeCap":"round"}},
 {"data":{"name":"eb"},"mark":{"type":"rule","color":"#0000ff","strokeWidth":2,"clip":true},"encoding":{"x2":{"field":"B2"}}},
 {"data":{"name":"eb"},"mark":{"type":"tick","orient":"vertical","color":"#0000ff","thickness":2,"size":10,"opacity":1,"clip":true}},
 {"data":{"name":"eb"},"mark":{"type":"tick","orient":"vertical","color":"#0000ff","thickness":2,"size":10,"opacity":1,"clip":true},"encoding":{"x":{"field":"B2","type":"quantitative","scale":{"domain":[-0.04,6.2],"nice":false,"zero":false},"axis":{"orient":"bottom","values":[0,1,2,3,4,5,6],"title":"B (T)","tickSize":9,"labelFontSize":22,"labelPadding":2,"titleFontSize":24,"titlePadding":8}}}},
 {"data":{"name":"ebk"},"mark":{"type":"rule","color":"black","strokeWidth":2},"encoding":{"x2":{"field":"B2"}}},
 {"data":{"name":"ebk"},"mark":{"type":"tick","orient":"vertical","color":"black","thickness":2,"size":10,"opacity":1}},
 {"data":{"name":"ebk"},"mark":{"type":"tick","orient":"vertical","color":"black","thickness":2,"size":10,"opacity":1},"encoding":{"x":{"field":"B2","type":"quantitative","scale":{"domain":[-0.04,6.2],"nice":false,"zero":false},"axis":{"orient":"bottom","values":[0,1,2,3,4,5,6],"title":"B (T)","tickSize":9,"labelFontSize":22,"labelPadding":2,"titleFontSize":24,"titlePadding":8}}}},
 {"data":{"values":[
{"s":"ρ (T)","B":3.71,"T":1.18},{"s":"ρ (T)","B":3.91,"T":0.96},{"s":"ρ (T)","B":3.81,"T":0.90},{"s":"ρ (T)","B":3.68,"T":0.79},{"s":"ρ (T)","B":3.64,"T":0.69},{"s":"ρ (T)","B":4.10,"T":0.72},{"s":"ρ (T)","B":3.60,"T":0.45},{"s":"ρ (T)","B":4.19,"T":0.51},{"s":"ρ (T)","B":4.24,"T":0.27},
{"s":"C (T)","B":0,"T":2.70},{"s":"C (T)","B":1,"T":2.57},{"s":"C (T)","B":2,"T":2.35},
{"s":"χac (T)","B":0,"T":3.60},{"s":"χac (T)","B":2,"T":2.70},{"s":"χac (T)","B":3,"T":1.90},{"s":"χac (T)","B":3.41,"T":1.38},{"s":"χac (T)","B":3.55,"T":1.55},{"s":"χac (T)","B":3.58,"T":1.53},{"s":"χac (T)","B":3.61,"T":1.50},{"s":"χac (T)","B":3.64,"T":1.39},{"s":"χac (T)","B":3.80,"T":1.28},{"s":"χac (T)","B":3.55,"T":1.13},{"s":"χac (T)","B":3.61,"T":1.06},{"s":"χac (T)","B":3.58,"T":0.94},{"s":"χac (T)","B":3.80,"T":0.86},{"s":"χac (T)","B":4.00,"T":0.89},{"s":"χac (T)","B":4.20,"T":0.55},{"s":"χac (T)","B":4.25,"T":0.46},{"s":"χac (T)","B":3.55,"T":0.57},{"s":"χac (T)","B":3.39,"T":0.46},{"s":"χac (T)","B":3.61,"T":0.32},{"s":"χac (T)","B":3.63,"T":0.27},{"s":"χac (T)","B":4.60,"T":0.34},{"s":"χac (T)","B":4.60,"T":1.44},{"s":"χac (T)","B":5.0,"T":1.87},{"s":"χac (T)","B":6.0,"T":2.38},
{"s":"ρ (B)","B":3.35,"T":1.49},{"s":"ρ (B)","B":3.42,"T":1.45},{"s":"ρ (B)","B":3.67,"T":1.00},{"s":"ρ (B)","B":3.73,"T":0.80},{"s":"ρ (B)","B":4.07,"T":0.80},{"s":"ρ (B)","B":3.40,"T":0.60},{"s":"ρ (B)","B":3.62,"T":0.60},{"s":"ρ (B)","B":4.20,"T":0.60},{"s":"ρ (B)","B":3.38,"T":0.40},{"s":"ρ (B)","B":3.60,"T":0.40},{"s":"ρ (B)","B":4.24,"T":0.40},{"s":"ρ (B)","B":3.39,"T":0.20},{"s":"ρ (B)","B":3.60,"T":0.20},{"s":"ρ (B)","B":4.25,"T":0.20},{"s":"ρ (B)","B":3.39,"T":0.10},{"s":"ρ (B)","B":3.60,"T":0.10},{"s":"ρ (B)","B":4.25,"T":0.10},{"s":"ρ (B)","B":4.52,"T":0.20},{"s":"ρ (B)","B":4.52,"T":0.10},{"s":"ρ (B)","B":4.79,"T":0.60},{"s":"ρ (B)","B":4.81,"T":0.40},{"s":"ρ (B)","B":4.78,"T":0.20},{"s":"ρ (B)","B":4.74,"T":0.10},{"s":"ρ (B)","B":4.85,"T":0.80},{"s":"ρ (B)","B":5.15,"T":1.00},{"s":"ρ (B)","B":6.0,"T":1.45},
{"s":"χac (B)","B":3.82,"T":1.50},{"s":"χac (B)","B":3.57,"T":1.20},{"s":"χac (B)","B":3.99,"T":1.20},{"s":"χac (B)","B":3.67,"T":1.00},{"s":"χac (B)","B":4.08,"T":1.00},{"s":"χac (B)","B":4.32,"T":1.00},{"s":"χac (B)","B":3.47,"T":0.80},{"s":"χac (B)","B":3.72,"T":0.80},{"s":"χac (B)","B":4.13,"T":0.80},{"s":"χac (B)","B":4.30,"T":0.80},{"s":"χac (B)","B":3.46,"T":0.50},{"s":"χac (B)","B":3.64,"T":0.50},{"s":"χac (B)","B":4.25,"T":0.50},{"s":"χac (B)","B":4.46,"T":0.50},{"s":"χac (B)","B":4.82,"T":0.50},{"s":"χac (B)","B":4.86,"T":0.80},{"s":"χac (B)","B":4.87,"T":1.00},{"s":"χac (B)","B":5.10,"T":1.20},{"s":"χac (B)","B":3.39,"T":0.20},{"s":"χac (B)","B":3.60,"T":0.20},{"s":"χac (B)","B":4.25,"T":0.20},{"s":"χac (B)","B":4.46,"T":0.20},{"s":"χac (B)","B":4.78,"T":0.20},{"s":"χac (B)","B":3.39,"T":0.07},{"s":"χac (B)","B":3.60,"T":0.07},{"s":"χac (B)","B":4.25,"T":0.07},{"s":"χac (B)","B":4.46,"T":0.08},{"s":"χac (B)","B":4.77,"T":0.07}]},
  "mark":{"type":"point","opacity":1,"strokeWidth":2},
  "encoding":{
   "shape":{"field":"s","type":"nominal","title":null,"scale":{"domain":["ρ (T)","C (T)","χac (T)","ρ (B)","χac (B)"],"range":["circle","square","diamond","circle","M-1,-1L1,1M-1,1L1,-1"]}},
   "fill":{"field":"s","type":"nominal","title":null,"scale":{"domain":["ρ (T)","C (T)","χac (T)","ρ (B)","χac (B)"],"range":["black","#ff0000","transparent","transparent","transparent"]}},
   "stroke":{"field":"s","type":"nominal","title":null,"scale":{"domain":["ρ (T)","C (T)","χac (T)","ρ (B)","χac (B)"],"range":["black","#ff0000","black","#0000ff","#0000ff"]}},
   "size":{"field":"s","type":"nominal","title":null,"scale":{"domain":["ρ (T)","C (T)","χac (T)","ρ (B)","χac (B)"],"range":[95,120,125,80,120]}}}},
 {"data":{"name":"arrows"},"mark":{"type":"rule","color":"black","strokeWidth":2},"encoding":{"x2":{"field":"B2"},"y2":{"field":"T2"}}},
 {"data":{"name":"arrows"},"mark":{"type":"point","shape":"M0,0L-0.22,-1L0.22,-1Z","size":784,"filled":true,"color":"black","opacity":1,"angle":8.3}},
 {"data":{"values":[{"B":1.24,"T":3.49,"label":"CePdAl\u00a0\u00a0Bllc"}]},
  "mark":{"type":"text","fontSize":27,"font":"Liberation Sans","align":"center","baseline":"middle","color":"black"},
  "encoding":{"text":{"field":"label"}}},
 {"data":{"values":[{"B":4.43,"T":2.57,"label":"P"},{"B":4.04,"T":1.87,"label":"B"},{"B":4.43,"T":1.87,"label":"D"},{"B":3.93,"T":0.40,"label":"C"},{"B":5.64,"T":0.40,"label":"E"},{"B":1.60,"T":0.365,"label":"A (partial-AFM)"}]},
  "mark":{"type":"text","fontSize":25,"fontWeight":"bold","font":"Liberation Sans","align":"center","baseline":"middle","color":"black"},
  "encoding":{"text":{"field":"label"}}}
]},
{"data":{"values":[{}]},"mark":{"type":"point","opacity":0},
 "encoding":{
  "x":{"datum":1,"type":"quantitative","scale":{"domain":[-0.04,6.2],"nice":false,"zero":false},"axis":{"orient":"bottom","values":[0.5,1.5,2.5,3.5,4.5,5.5],"labels":false,"title":null,"domain":false,"tickSize":5}},
  "y":{"datum":1,"type":"quantitative","scale":{"domain":[0,4],"nice":false,"zero":false},"axis":{"orient":"left","values":[0.5,1.5,2.5,3.5],"labels":false,"title":null,"domain":false,"tickSize":5}}}},
{"data":{"values":[{}]},"mark":{"type":"point","opacity":0},
 "encoding":{
  "x":{"datum":1,"type":"quantitative","scale":{"domain":[-0.04,6.2],"nice":false,"zero":false},"axis":{"orient":"top","values":[0,1,2,3,4,5,6],"labels":false,"title":null,"tickSize":-9}},
  "y":{"datum":1,"type":"quantitative","scale":{"domain":[0,4],"nice":false,"zero":false},"axis":{"orient":"right","values":[0,1,2,3,4],"labels":false,"title":null,"tickSize":-9}}}},
{"data":{"values":[{}]},"mark":{"type":"point","opacity":0},
 "encoding":{
  "x":{"datum":1,"type":"quantitative","scale":{"domain":[-0.04,6.2],"nice":false,"zero":false},"axis":{"orient":"top","values":[0.5,1.5,2.5,3.5,4.5,5.5],"labels":false,"title":null,"domain":false,"tickSize":-5}},
  "y":{"datum":1,"type":"quantitative","scale":{"domain":[0,4],"nice":false,"zero":false},"axis":{"orient":"right","values":[0.5,1.5,2.5,3.5],"labels":false,"title":null,"domain":false,"tickSize":-5}}}}
],
"resolve":{"axis":{"x":"independent","y":"independent"}}
}
